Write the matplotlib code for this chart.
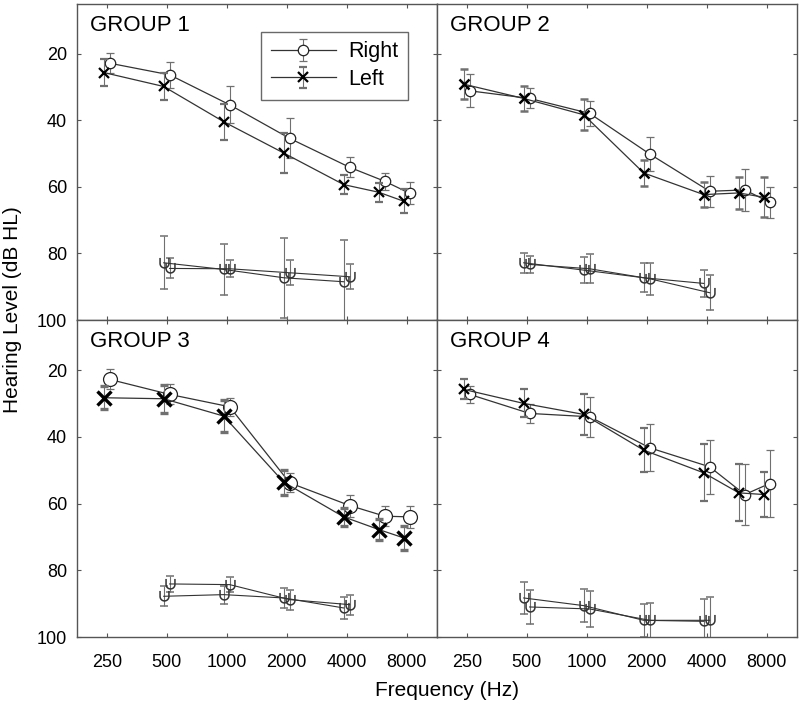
import numpy as np
import matplotlib
matplotlib.use("Agg")
import matplotlib.pyplot as plt
from matplotlib.path import Path

plt.rcParams['font.family'] = ['Liberation Sans', 'DejaVu Sans']

# frequencies (Hz)
freqs = [250, 500, 1000, 2000, 4000, 6000, 8000]
bc_freqs = [500, 1000, 2000, 4000]
tick_freqs = [250, 500, 1000, 2000, 4000, 8000]
tick_labels = ["250", "500", "1000", "2000", "4000", "8000"]
groups = ["GROUP 1", "GROUP 2", "GROUP 3", "GROUP 4"]

# air conduction means and error bars (dB HL)
right_ac = [
    [22.8, 26.3, 35.3, 45.4, 54.1, 58.3, 61.9],
    [31.1, 33.4, 37.9, 50.1, 61.3, 60.9, 64.6],
    [22.8, 27.3, 31.0, 53.8, 60.6, 63.8, 64.0],
    [27.3, 33.0, 34.0, 43.3, 49.0, 57.3, 54.0],
]
right_ac_err = [
    [3.0, 4.0, 5.5, 6.0, 3.0, 2.5, 3.3],
    [5.0, 3.0, 3.8, 5.2, 4.7, 6.3, 4.7],
    [3.0, 3.0, 2.7, 2.8, 3.3, 3.0, 3.4],
    [2.5, 2.8, 6.0, 7.0, 8.0, 9.0, 10.0],
]
left_ac = [
    [25.6, 29.8, 40.4, 49.8, 59.3, 61.6, 64.3],
    [29.1, 33.4, 38.3, 55.8, 62.3, 61.8, 63.1],
    [28.3, 28.6, 33.8, 53.6, 64.0, 67.8, 70.3],
    [25.8, 30.0, 33.3, 44.0, 50.8, 56.8, 57.3],
]
left_ac_err = [
    [4.0, 4.0, 5.4, 6.0, 2.8, 2.8, 3.6],
    [4.6, 3.7, 4.6, 3.9, 3.7, 4.8, 6.0],
    [3.5, 4.2, 4.8, 3.7, 2.8, 3.2, 3.5],
    [3.0, 4.2, 6.2, 6.5, 8.5, 8.5, 6.8],
]

# bone conduction means and error bars (dB HL)
bc_a = [
    [82.8, 84.8, 87.3, 88.5],
    [82.8, 85.0, 87.3, 89.0],
    [87.8, 87.3, 88.3, 91.3],
    [88.3, 90.6, 95.0, 95.3],
]
bc_a_err = [
    [8.0, 7.7, 12.0, 12.5],
    [3.0, 3.8, 4.4, 4.0],
    [3.0, 2.7, 3.0, 3.3],
    [4.7, 5.0, 5.0, 6.7],
]
bc_b = [
    [84.5, 84.6, 85.8, 87.0],
    [83.3, 84.6, 87.6, 91.8],
    [84.1, 84.3, 88.8, 90.3],
    [91.0, 91.6, 95.0, 95.0],
]
bc_b_err = [
    [3.0, 2.6, 3.8, 3.7],
    [2.5, 4.3, 4.8, 5.3],
    [2.3, 2.3, 3.0, 3.0],
    [5.0, 5.3, 5.2, 7.0],
]

# "U" shaped marker for bone conduction
t = np.linspace(np.pi, 2 * np.pi, 15)
u_verts = [(-0.8, 1)] + list(zip(0.8 * np.cos(t), 0.8 * np.sin(t))) + [(0.8, 1)]
u_marker = Path(u_verts)

W, H = 800, 709
fig = plt.figure(figsize=(W / 100, H / 100), dpi=100)

# panel boxes in pixels: left, top, right, bottom
boxes = [(76.7, 4, 436.7, 320), (436.7, 4, 796.7, 320),
         (76.7, 320, 436.7, 637), (436.7, 320, 796.7, 637)]
msizes = [7.5, 7.5, 10, 7.5]
xsizes = [7, 7, 9.5, 7]
xwidth = [1.6, 1.8, 2.4, 1.6]

line_c = "#333333"
err_c = "#707070"
sh = 1.035  # small horizontal offset so right/left don't overlap

for i, (l, t_, r, b) in enumerate(boxes):
    ax = fig.add_axes([l / W, 1 - b / H, (r - l) / W, (b - t_) / H])
    ax.set_xscale("log", base=2)
    ax.set_xlim(250 / np.sqrt(2), 8000 * np.sqrt(2))
    ax.set_ylim(100, 5)

    fr = np.array(freqs, float)
    fb = np.array(bc_freqs, float)

    for xs, ys, es in ((fb / sh, bc_a[i], bc_a_err[i]),
                       (fb * sh, bc_b[i], bc_b_err[i])):
        ax.errorbar(xs, ys, yerr=es, color=line_c, lw=0.8,
                    ecolor=err_c, elinewidth=0.8, capsize=3, capthick=0.8,
                    marker=u_marker, ms=8, mfc="none", mec="#333333", mew=1.1,
                    zorder=2)

    ax.errorbar(fr * sh, right_ac[i], yerr=right_ac_err[i], color=line_c,
                lw=0.9, ecolor=err_c, elinewidth=0.8, capsize=3, capthick=0.8,
                marker="o", ms=msizes[i], mfc="white", mec="#222222", mew=0.9,
                label="Right", zorder=3)
    ax.errorbar(fr / sh, left_ac[i], yerr=left_ac_err[i], color=line_c,
                lw=0.9, ecolor=err_c, elinewidth=0.8, capsize=3, capthick=0.8,
                marker="x", ms=xsizes[i], mec="black", mew=xwidth[i],
                label="Left", zorder=4)

    ax.set_xticks(tick_freqs)
    ax.set_xticklabels(tick_labels)
    ax.minorticks_off()
    ax.set_yticks([20, 40, 60, 80, 100])
    ax.tick_params(direction="in", length=3, width=0.8, top=True, right=True,
                   labelsize=13, color="#555555")
    ax.tick_params(axis="x", pad=12)
    ax.tick_params(axis="y", pad=7)
    if i in (0, 1):
        ax.tick_params(labelbottom=False)
    if i in (1, 3):
        ax.tick_params(labelleft=False)
    for s in ax.spines.values():
        s.set_color("#555555")
        s.set_linewidth(1.0)

    ax.text(0.036, 0.965, groups[i], transform=ax.transAxes, fontsize=16,
            ha="left", va="top")

    if i == 0:
        leg = ax.legend(loc="upper right", bbox_to_anchor=(0.921, 0.912),
                        borderaxespad=0, fontsize=15.5, frameon=True,
                        fancybox=False, edgecolor="#444444", handlelength=3.0,
                        borderpad=0.45, labelspacing=0.3, handletextpad=0.6)
        leg.get_frame().set_linewidth(1.0)

fig.text(447 / W, 1 - 690 / H, "Frequency (Hz)", fontsize=15,
         ha="center", va="center")
fig.text(13 / W, 1 - 310 / H, "Hearing Level (dB HL)", fontsize=15,
         ha="center", va="center", rotation=90)

fig.savefig("out.png", dpi=100)
